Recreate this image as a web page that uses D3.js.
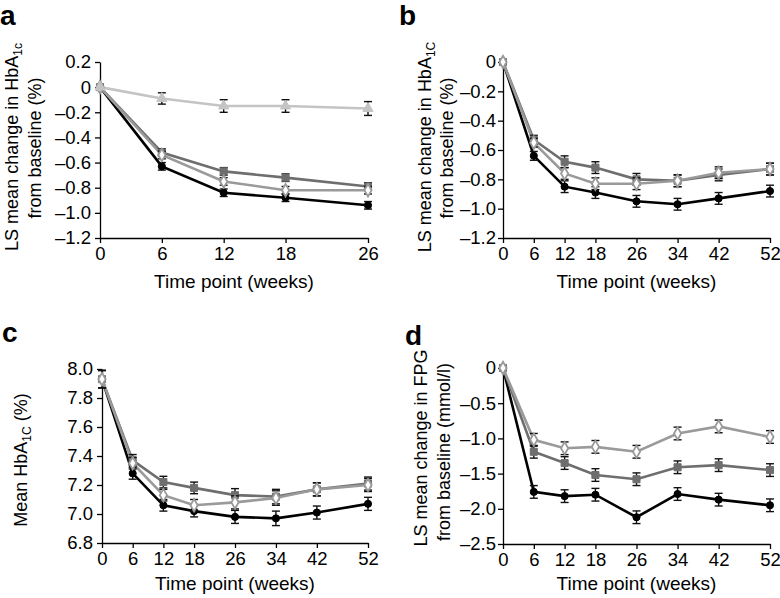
<!DOCTYPE html>
<html>
  <head>
    <meta charset="UTF-8">
    <style>
      body {
        margin: 0;
        background: white;
        font-family: "Liberation Sans", Arial, Helvetica, sans-serif;
      }

      .tick text {
        font-size: 18.5px;
        fill: black;
      }

      .x-title {
        font-size: 19px;
      }

      .y-title {
        font-size: 18px;
      }

      .panel-label {
        font-size: 28px;
        font-weight: bold;
      }
    </style>
    <script src="https://d3js.org/d3.v7.min.js"></script>
  </head>

  <body>
    <svg id="chart"></svg>

    <script type="text/javascript">
      // weeks
      const weeks26 = [0, 6, 12, 18, 26]
      const weeks52 = [0, 6, 12, 18, 26, 34, 42, 52]

      // panel a: LS mean change in HbA1c (%), 26 weeks
      const aBlack = [0, -0.63, -0.84, -0.88, -0.94]
      const aSquare = [0, -0.52, -0.67, -0.72, -0.79]
      const aDiamond = [0, -0.54, -0.75, -0.82, -0.82]
      const aTriangle = [0, -0.09, -0.15, -0.15, -0.17]
      const aErr = [0, 0.03, 0.03, 0.03, 0.03]
      const aTriErr = [0, 0.045, 0.05, 0.05, 0.055]

      // panel b: LS mean change in HbA1c (%), 52 weeks
      const bBlack = [0, -0.64, -0.85, -0.89, -0.95, -0.97, -0.93, -0.88]
      const bSquare = [0, -0.53, -0.68, -0.72, -0.80, -0.81, -0.77, -0.73]
      const bDiamond = [0, -0.55, -0.76, -0.83, -0.83, -0.81, -0.755, -0.73]
      const bErr = [0, 0.03, 0.04, 0.04, 0.04, 0.04, 0.04, 0.04]

      // panel c: mean HbA1c (%)
      const cBlack = [7.93, 7.28, 7.06, 7.02, 6.98, 6.97, 7.01, 7.07]
      const cSquare = [7.93, 7.37, 7.22, 7.18, 7.13, 7.12, 7.17, 7.21]
      const cDiamond = [7.93, 7.35, 7.13, 7.06, 7.08, 7.11, 7.17, 7.20]
      const cErr = [0.06, 0.04, 0.04, 0.04, 0.045, 0.05, 0.045, 0.045]

      // panel d: LS mean change in FPG (mmol/l)
      const dBlack = [0, -1.76, -1.82, -1.80, -2.12, -1.79, -1.87, -1.95]
      const dSquare = [0, -1.19, -1.35, -1.52, -1.58, -1.41, -1.38, -1.45]
      const dDiamond = [0, -1.02, -1.14, -1.12, -1.19, -0.93, -0.83, -0.98]
      const dErr = [0, 0.09, 0.09, 0.09, 0.09, 0.09, 0.09, 0.09]

      // tick labels
      const yTicksA = [0.2, 0, -0.2, -0.4, -0.6, -0.8, -1.0, -1.2]
      const yTicksB = [0, -0.2, -0.4, -0.6, -0.8, -1.0, -1.2]
      const yTicksC = [8.0, 7.8, 7.6, 7.4, 7.2, 7.0, 6.8]
      const yTicksD = [0, -0.5, -1.0, -1.5, -2.0, -2.5]

      const styles = {
        black: {color: '#000000', shape: 'circle', fill: '#000000'},
        square: {color: '#6e6e6e', shape: 'square', fill: '#6e6e6e'},
        diamond: {color: '#9a9a9a', shape: 'diamond', fill: '#ffffff'},
        triangle: {color: '#c4c4c4', shape: 'triangle', fill: '#c4c4c4'}
      }

      const svg = d3.select('#chart')
        .attr('width', 780)
        .attr('height', 598)

      // en dash as minus, like the original figure
      const fmt = d => (d < 0 ? '\u2013' : '') + d3.format('.1f')(Math.abs(d))
      const zeroFmt = d => d === 0 ? '0' : fmt(d)

      function drawPanel(cfg) {
        let {xRange, yRange, xDomain, yDomain, xTicks, yTicks, yFormat, series} = cfg
        let x = d3.scaleLinear().domain(xDomain).range(xRange)
        let y = d3.scaleLinear().domain(yDomain).range(yRange)
        let g = svg.append('g')

        let axisY = d3.axisLeft(y).tickValues(yTicks).tickFormat(yFormat)
          .tickSize(5).tickSizeOuter(0).tickPadding(cfg.yPad)
        g.append('g')
          .attr('transform', `translate(${xRange[0]},0)`)
          .call(axisY)

        let axisX = d3.axisBottom(x).tickValues(xTicks).tickFormat(d3.format('d'))
          .tickSize(5).tickSizeOuter(0).tickPadding(4)
        g.append('g')
          .attr('transform', `translate(0,${yRange[0]})`)
          .call(axisX)

        g.selectAll('.domain, .tick line').attr('stroke', '#000').attr('stroke-width', 1.3)
        g.selectAll('.tick text').attr('font-family', null)

        let line = d3.line().x(d => x(d.w)).y(d => y(d.v))

        series.forEach(s => {
          let pts = s.values.map((v, i) => ({w: cfg.weeks[i], v: v, e: s.err[i]}))
          g.append('path')
            .datum(pts)
            .attr('fill', 'none')
            .attr('stroke', styles[s.key].color)
            .attr('stroke-width', 2.6)
            .attr('d', line)
          s.pts = pts
        })

        series.forEach(s => {
          let st = styles[s.key]
          let bars = g.append('g').selectAll('g')
            .data(s.pts.filter(d => d.e > 0))
            .enter().append('g')
            .attr('stroke', '#111')
            .attr('stroke-width', 1.4)
          bars.append('line')
            .attr('x1', d => x(d.w)).attr('x2', d => x(d.w))
            .attr('y1', d => y(d.v - d.e)).attr('y2', d => y(d.v + d.e))
          bars.append('line')
            .attr('x1', d => x(d.w) - 4).attr('x2', d => x(d.w) + 4)
            .attr('y1', d => y(d.v + d.e)).attr('y2', d => y(d.v + d.e))
          bars.append('line')
            .attr('x1', d => x(d.w) - 4).attr('x2', d => x(d.w) + 4)
            .attr('y1', d => y(d.v - d.e)).attr('y2', d => y(d.v - d.e))

          let symType = {
            circle: d3.symbolCircle,
            square: d3.symbolSquare,
            diamond: d3.symbolDiamond,
            triangle: d3.symbolTriangle
          }[st.shape]
          let size = st.shape === 'circle' ? 40 : st.shape === 'square' ? 50 : 45
          g.append('g').selectAll('path')
            .data(s.pts)
            .enter().append('path')
            .attr('transform', d => `translate(${x(d.w)},${y(d.v)})`)
            .attr('d', d3.symbol().type(symType).size(size))
            .attr('fill', st.fill)
            .attr('stroke', st.color)
            .attr('stroke-width', st.shape === 'diamond' ? 1.8 : 1)
        })

        // x axis title
        g.append('text')
          .attr('class', 'x-title')
          .attr('x', (xRange[0] + xRange[1]) / 2)
          .attr('y', cfg.xTitleY)
          .attr('text-anchor', 'middle')
          .text('Time point (weeks)')

        // y axis title lines
        cfg.yTitle.forEach(t => {
          let txt = g.append('text')
            .attr('class', 'y-title')
            .attr('text-anchor', 'middle')
            .attr('transform', `translate(${t.x},${t.cy}) rotate(-90)`)
          txt.append('tspan').text(t.text)
          if (t.sub) {
            txt.append('tspan')
              .attr('font-size', '12px')
              .attr('dy', 4)
              .text(t.sub)
            if (t.after) {
              txt.append('tspan').attr('dy', -4).text(t.after)
            }
          }
        })

        svg.append('text')
          .attr('class', 'panel-label')
          .attr('x', cfg.label.x)
          .attr('y', cfg.label.y)
          .text(cfg.label.text)
      }

      drawPanel({
        weeks: weeks26,
        xDomain: [0, 26], xRange: [100, 368],
        yDomain: [-1.2, 0.2], yRange: [238, 62],
        xTicks: weeks26, yTicks: yTicksA, yFormat: zeroFmt, yPad: 4,
        series: [
          {key: 'black', values: aBlack, err: aErr},
          {key: 'square', values: aSquare, err: aErr},
          {key: 'diamond', values: aDiamond, err: aErr},
          {key: 'triangle', values: aTriangle, err: aTriErr}
        ],
        xTitleY: 288,
        yTitle: [
          {x: 18, cy: 147, text: 'LS mean change in HbA', sub: '1c'},
          {x: 41, cy: 148, text: 'from baseline (%)'}
        ],
        label: {x: 0, y: 25, text: 'a'}
      })

      drawPanel({
        weeks: weeks52,
        xDomain: [0, 52], xRange: [503, 770],
        yDomain: [-1.2, 0], yRange: [238, 62],
        xTicks: weeks52, yTicks: yTicksB, yFormat: zeroFmt, yPad: 2,
        series: [
          {key: 'black', values: bBlack, err: bErr},
          {key: 'square', values: bSquare, err: bErr},
          {key: 'diamond', values: bDiamond, err: bErr}
        ],
        xTitleY: 288,
        yTitle: [
          {x: 431, cy: 147, text: 'LS mean change in HbA', sub: '1C'},
          {x: 453, cy: 148, text: 'from baseline (%)'}
        ],
        label: {x: 399, y: 25, text: 'b'}
      })

      drawPanel({
        weeks: weeks52,
        xDomain: [0, 52], xRange: [102, 368],
        yDomain: [6.8, 8.0], yRange: [543, 369],
        xTicks: weeks52, yTicks: yTicksC, yFormat: fmt, yPad: 4,
        series: [
          {key: 'black', values: cBlack, err: cErr},
          {key: 'square', values: cSquare, err: cErr},
          {key: 'diamond', values: cDiamond, err: cErr}
        ],
        xTitleY: 590,
        yTitle: [
          {x: 27, cy: 460, text: 'Mean HbA', sub: '1C', after: ' (%)'}
        ],
        label: {x: 2, y: 342, text: 'c'}
      })

      drawPanel({
        weeks: weeks52,
        xDomain: [0, 52], xRange: [503, 770],
        yDomain: [-2.5, 0], yRange: [544, 368],
        xTicks: weeks52, yTicks: yTicksD, yFormat: zeroFmt, yPad: 2,
        series: [
          {key: 'black', values: dBlack, err: dErr},
          {key: 'square', values: dSquare, err: dErr},
          {key: 'diamond', values: dDiamond, err: dErr}
        ],
        xTitleY: 590,
        yTitle: [
          {x: 427, cy: 448, text: 'LS mean change in FPG'},
          {x: 450, cy: 452, text: 'from baseline (mmol/l)'}
        ],
        label: {x: 405, y: 345, text: 'd'}
      })
    </script>
  </body>
</html>
